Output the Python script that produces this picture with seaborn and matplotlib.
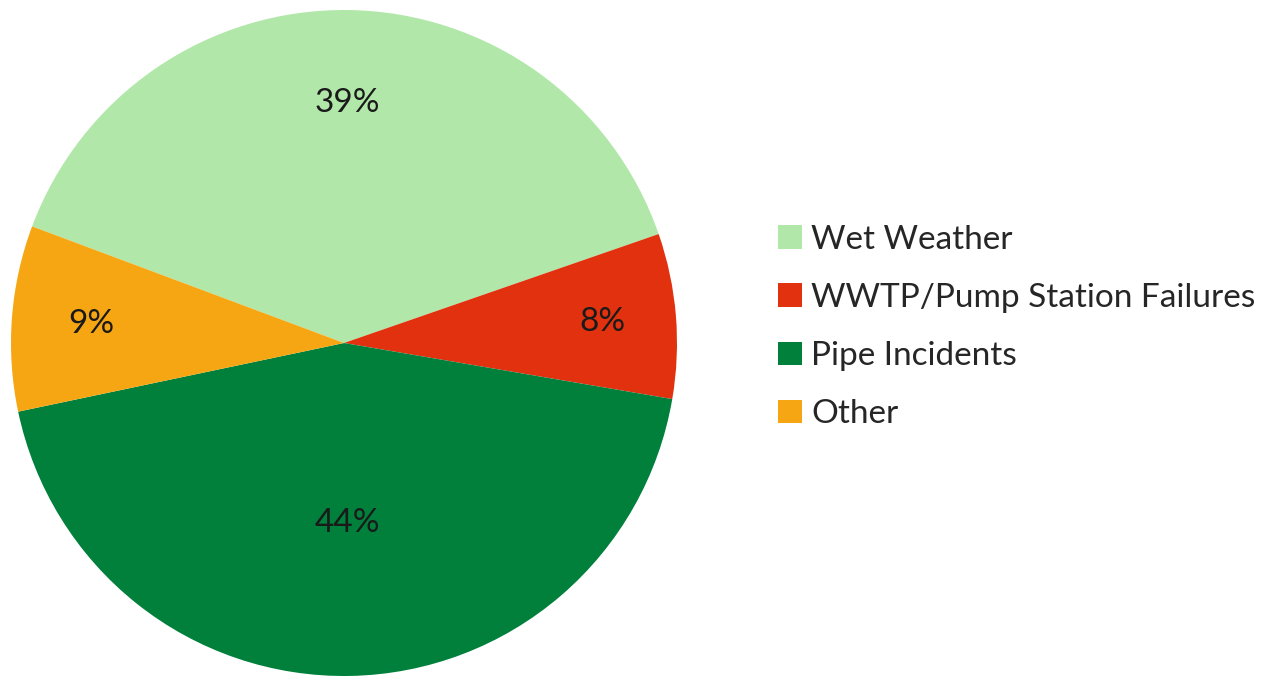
import matplotlib
matplotlib.use("Agg")
import matplotlib.pyplot as plt
import seaborn as sns
import numpy as np

categories = ["Wet Weather", "WWTP/Pump Station Failures", "Pipe Incidents", "Other"]
values = [39, 8, 44, 9]
colors = ["#b1e8a9", "#e1310f", "#00803b", "#f6a612"]

sns.set_theme(style="white")
plt.rcParams['font.family'] = ['Lato', 'DejaVu Sans']

fig = plt.figure(figsize=(12.68, 6.78), dpi=100)
W, H = 1268, 678
cx, cy, r = 344, 343, 333
ax = fig.add_axes([(cx - r) / W, (H - cy - r) / H, 2 * r / W, 2 * r / H])

fs = 24
wedges, texts, autotexts = ax.pie(
    values, colors=colors, startangle=159.5, counterclock=False,
    autopct=lambda p: f"{p:.0f}%", pctdistance=0.7,
    textprops=dict(fontsize=fs, color="#1a1a1a"),
    wedgeprops=dict(linewidth=0),
)
ax.set_xlim(-1, 1)
ax.set_ylim(-1, 1)
ax.set_aspect("equal")

label_r = [0.72, 0.78, 0.54, 0.76]
for w, t, lr in zip(wedges, autotexts, label_r):
    ang = np.deg2rad((w.theta1 + w.theta2) / 2)
    t.set_position((lr * np.cos(ang), lr * np.sin(ang)))

px = fs * 100 / 72
leg = fig.legend(wedges, categories, loc="center left",
                 bbox_to_anchor=(778 / W, 1 - 327 / H), frameon=False,
                 fontsize=fs, handlelength=24 / px, handleheight=24 / px,
                 handletextpad=9 / px, labelspacing=(61.5 - px) / px, borderpad=0,
                 borderaxespad=0)

fig.savefig("out.png", dpi=100)
